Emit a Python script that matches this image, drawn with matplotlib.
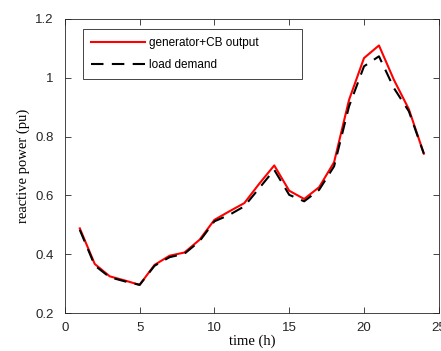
import numpy as np
import matplotlib.pyplot as plt

# hourly reactive power (pu)
hours = np.arange(1, 25)
gen_cb = [0.488, 0.367, 0.325, 0.311, 0.296, 0.364, 0.395, 0.406, 0.449, 0.517,
          0.546, 0.574, 0.640, 0.702, 0.616, 0.588, 0.628, 0.713, 0.925, 1.067,
          1.110, 0.993, 0.893, 0.742]
load = [0.483, 0.362, 0.322, 0.308, 0.296, 0.361, 0.390, 0.402, 0.444, 0.512,
        0.534, 0.563, 0.625, 0.687, 0.602, 0.580, 0.619, 0.699, 0.903, 1.039,
        1.073, 0.965, 0.886, 0.742]

plt.rcParams['font.family'] = 'Liberation Sans'

fig = plt.figure(figsize=(4.41, 3.51), dpi=100)
ax = fig.add_axes([0.147, 0.108, 0.848, 0.838])

ax.plot(hours, gen_cb, color='red', lw=1.5, label='generator+CB output')
ax.plot(hours, load, color='black', lw=1.5, dashes=(6, 4), label='load demand')

ax.set_xlim(0, 25)
ax.set_ylim(0.2, 1.2)
ax.set_xticks([0, 5, 10, 15, 20, 25])
ax.set_yticks([0.2, 0.4, 0.6, 0.8, 1.0, 1.2])
ax.set_yticklabels(['0.2', '0.4', '0.6', '0.8', '1', '1.2'])
ax.tick_params(direction='in', top=True, right=True, labelsize=9.5, length=4,
               width=0.6, colors='#262626', labelcolor='#262626')
ax.tick_params(axis='y', pad=8)
ax.tick_params(axis='x', pad=6.5)
for s in ax.spines.values():
    s.set_linewidth(0.6)
    s.set_color('#262626')

ax.set_xlabel('time (h)', family='Liberation Serif', fontsize=10.5, labelpad=0)
ax.set_ylabel('reactive power (pu)', family='Liberation Serif', fontsize=10.5,
              labelpad=4)

leg = ax.legend(loc='upper left', bbox_to_anchor=(0.048, 0.803, 0.586, 0.163),
                mode='expand', fontsize=8.5, fancybox=False,
                edgecolor='#262626', framealpha=1, handlelength=4.6,
                borderpad=0.7, labelspacing=0.8, handletextpad=0.3,
                borderaxespad=0)
leg.get_frame().set_linewidth(0.6)

fig.savefig('out.png', dpi=100)
